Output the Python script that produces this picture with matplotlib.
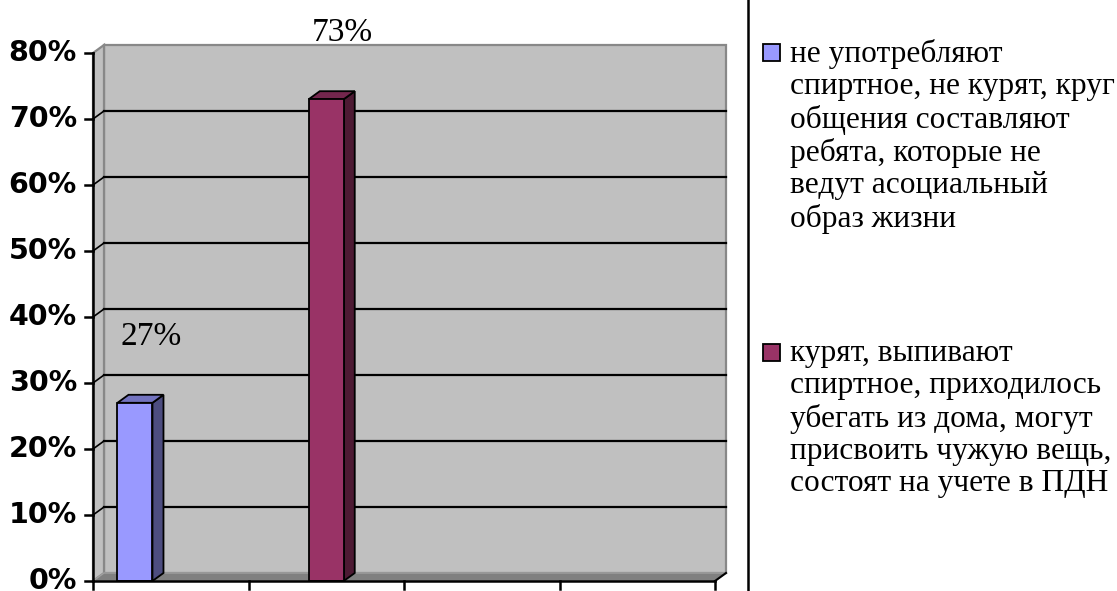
import numpy as np
import matplotlib.pyplot as plt
from matplotlib.patches import Polygon, Rectangle

# values
series_labels = [
    "не употребляют\nспиртное, не курят, круг\nобщения составляют\nребята, которые не\nведут асоциальный\nобраз жизни",
    "курят, выпивают\nспиртное, приходилось\nубегать из дома, могут\nприсвоить чужую вещь,\nсостоят на учете в ПДН",
]
values = [27, 73]
front_colors = ["#9999FF", "#993366"]
side_colors = ["#4D4D80", "#4D1A33"]
top_colors = ["#7373BF", "#73264D"]
yticks = [0, 10, 20, 30, 40, 50, 60, 70, 80]
ytick_labels = ["0%", "10%", "20%", "30%", "40%", "50%", "60%", "70%", "80%"]

W, H = 1117, 591
fig = plt.figure(figsize=(W / 100, H / 100), dpi=100)
fig.patch.set_facecolor("white")

# plot area in pixels: x 93..715, y 53..581
ax = fig.add_axes([93 / W, (H - 581) / H, (715 - 93) / W, (581 - 53) / H])
ax.set_xlim(0, 4)
ax.set_ylim(0, 80)
ax.axis("off")

dx = 11 / 155.5   # depth offset, x units
dy = 8 / 6.6      # depth offset, percent units
ncat = 4
top = 80

# back wall
ax.add_patch(Polygon([(dx, dy), (ncat + dx, dy), (ncat + dx, top + dy), (dx, top + dy)],
                     closed=True, facecolor="#C0C0C0", edgecolor="#888888", lw=1.6,
                     clip_on=False, zorder=0))
# side wall
ax.add_patch(Polygon([(0, 0), (dx, dy), (dx, top + dy), (0, top)],
                     closed=True, facecolor="#C0C0C0", edgecolor="#888888", lw=1.6,
                     clip_on=False, zorder=0))
# floor
ax.add_patch(Polygon([(0, 0), (ncat, 0), (ncat + dx, dy), (dx, dy)],
                     closed=True, facecolor="#808080", edgecolor="#A0A0A0", lw=1,
                     clip_on=False, zorder=1))

# gridlines on back wall and side wall
for t in yticks[1:-1]:
    ax.plot([dx, ncat + dx], [t + dy, t + dy], color="black", lw=1.6, zorder=1, clip_on=False)
    ax.plot([0, dx], [t, t + dy], color="black", lw=1.2, zorder=1, clip_on=False)

# axes lines
ax.plot([0, 0], [0, top], color="black", lw=1.8, zorder=5, clip_on=False)
ax.plot([0, ncat], [0, 0], color="black", lw=1.8, zorder=5, clip_on=False)
ax.plot([ncat, ncat + dx], [0, dy], color="black", lw=1.5, zorder=5, clip_on=False)

# y ticks
tick_x = 8 / 155.5
for t, lab in zip(yticks, ytick_labels):
    ax.plot([-tick_x, 0], [t, t], color="black", lw=1.8, zorder=5, clip_on=False)
    ax.annotate(lab, (0, t), xytext=(-16, 0), textcoords="offset pixels",
                ha="right", va="center", fontsize=20.5, fontweight="bold",
                family="DejaVu Sans", annotation_clip=False)
# x ticks
tick_y = 8 / 6.6
for c in range(ncat + 1):
    ax.plot([c, c], [0, -tick_y], color="black", lw=1.8, zorder=5, clip_on=False)

# 3d-style bars
bar_x = [0.27, 1.5]
bw = 0.225
for x, v, fc, sc, tc in zip(bar_x, values, front_colors, side_colors, top_colors):
    x0, x1 = x - bw / 2, x + bw / 2
    ax.add_patch(Polygon([(x1, 0), (x1 + dx, dy), (x1 + dx, v + dy), (x1, v)],
                         closed=True, facecolor=sc, edgecolor="black", lw=1.3, zorder=3))
    ax.add_patch(Polygon([(x0, v), (x0 + dx, v + dy), (x1 + dx, v + dy), (x1, v)],
                         closed=True, facecolor=tc, edgecolor="black", lw=1.3, zorder=3))
    ax.add_patch(Rectangle((x0, 0), bw, v, facecolor=fc, edgecolor="black", lw=1.3, zorder=4))
    ax.annotate(f"{v}%", (x, v), xytext=(16, 66), textcoords="offset pixels",
                ha="center", va="center", fontsize=24, family="Liberation Serif",
                annotation_clip=False)

# separator line
fig.add_artist(plt.Line2D([748 / W, 748 / W], [0, 1], color="black", lw=1.8))

# legend
leg_tops = [39, 339]
for lab, fc, yt in zip(series_labels, front_colors, leg_tops):
    fig.add_artist(Rectangle((763 / W, 1 - (yt + 22) / H), 17 / W, 17 / H,
                             facecolor=fc, edgecolor="black", lw=1.3))
    fig.text(790 / W, 1 - yt / H, lab, ha="left", va="top", fontsize=22.6,
             family="Liberation Serif", linespacing=1.15)

fig.savefig("out.png", dpi=100)
